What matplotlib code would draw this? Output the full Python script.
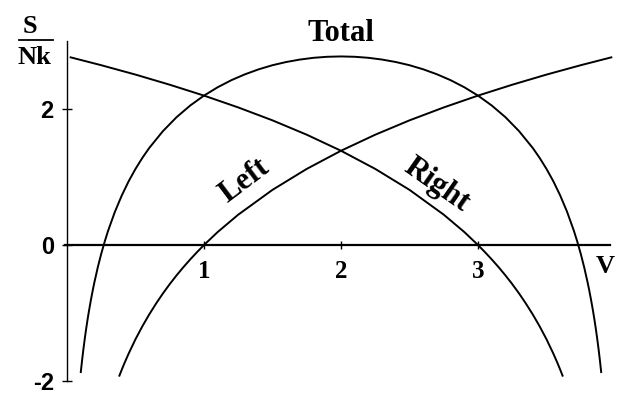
import matplotlib
matplotlib.use("Agg")
import matplotlib.pyplot as plt
from matplotlib.lines import Line2D

# Entropy S/Nk of the left and right compartments and of the whole system vs. V
left_v = [0.38, 0.40, 0.42, 0.45, 0.50, 0.55, 0.60, 0.65, 0.70, 0.75, 0.80, 0.85,
          0.90, 0.95, 1.00, 1.10, 1.25, 1.50, 1.75, 2.00, 2.25, 2.50, 2.75, 3.00,
          3.25, 3.50, 3.75, 3.98]
left_s = [-1.935, -1.833, -1.735, -1.597, -1.386, -1.196, -1.022, -0.862, -0.713,
          -0.575, -0.446, -0.325, -0.211, -0.103, 0.000, 0.191, 0.446, 0.811, 1.119,
          1.386, 1.622, 1.833, 2.023, 2.197, 2.357, 2.506, 2.644, 2.763]

right_v = [0.02, 0.25, 0.50, 0.75, 1.00, 1.25, 1.50, 1.75, 2.00, 2.25, 2.50, 2.75,
           2.90, 3.00, 3.05, 3.10, 3.15, 3.20, 3.25, 3.30, 3.35, 3.40, 3.45, 3.50,
           3.55, 3.58, 3.60, 3.62]
right_s = [2.763, 2.644, 2.506, 2.357, 2.197, 2.023, 1.833, 1.622, 1.386, 1.119,
           0.811, 0.446, 0.191, 0.000, -0.103, -0.211, -0.325, -0.446, -0.575,
           -0.713, -0.862, -1.022, -1.196, -1.386, -1.597, -1.735, -1.833, -1.935]

total_v = [0.10, 0.11, 0.12, 0.13, 0.14, 0.15, 0.16, 0.175, 0.19, 0.20, 0.225, 0.25,
           0.275, 0.30, 0.35, 0.40, 0.45, 0.50, 0.55, 0.60, 0.70, 0.80, 0.90, 1.00,
           1.10, 1.20, 1.30, 1.40, 1.50, 1.60, 1.70, 1.80, 1.90, 2.00,
           2.10, 2.20, 2.30, 2.40, 2.50, 2.60, 2.70, 2.80, 2.90, 3.00, 3.10, 3.20,
           3.30, 3.40, 3.45, 3.50, 3.55, 3.60, 3.65, 3.70, 3.725, 3.75, 3.775, 3.80,
           3.81, 3.825, 3.84, 3.85, 3.86, 3.87, 3.88, 3.89, 3.90]
total_s = [-1.883, -1.698, -1.529, -1.374, -1.231, -1.098, -0.974, -0.803, -0.646,
           -0.549, -0.326, -0.129, 0.048, 0.209, 0.490, 0.729, 0.937, 1.119, 1.281,
           1.426, 1.674, 1.880, 2.052, 2.197, 2.320, 2.424, 2.511, 2.584, 2.644,
           2.691, 2.727, 2.753, 2.768, 2.773,
           2.768, 2.753, 2.727, 2.691, 2.644, 2.584, 2.511, 2.424, 2.320, 2.197,
           2.052, 1.880, 1.674, 1.426, 1.281, 1.119, 0.937, 0.729, 0.490, 0.209,
           0.048, -0.129, -0.326, -0.549, -0.646, -0.803, -0.974, -1.098, -1.231,
           -1.374, -1.529, -1.698, -1.883]

x_ticks = [1, 2, 3]
x_tick_labels = ["1", "2", "3"]
y_ticks = [-2, 0, 2]
y_tick_labels = ["-2", "0", "2"]

serif = "Liberation Serif"
sans = "Liberation Sans"

fig = plt.figure(figsize=(6.18, 3.95), dpi=100)
ax = fig.add_axes([0, 0, 1, 1])
ax.set_xlim(-0.489, 4.022)
ax.set_ylim(-2.206, 3.603)
ax.patch.set_alpha(0)

lw = 1.4
for xs, ys in ((left_v, left_s), (right_v, right_s), (total_v, total_s)):
    ax.plot(xs, ys, color="black", lw=lw, solid_capstyle="butt",
            solid_joinstyle="round")

# Axes through the origin
for side in ("top", "right"):
    ax.spines[side].set_visible(False)
ax.spines["left"].set_position(("data", 0))
ax.spines["bottom"].set_position(("data", 0))
ax.spines["left"].set_bounds(-2.0, 3.0)
ax.spines["bottom"].set_bounds(-0.015, 3.96)
ax.spines["left"].set_linewidth(1.0)
ax.spines["bottom"].set_linewidth(1.6)

ax.set_xticks(x_ticks)
ax.set_xticklabels(x_tick_labels, fontfamily=serif, fontweight="bold", fontsize=18)
ax.set_yticks(y_ticks)
ax.set_yticklabels(y_tick_labels, fontfamily=sans, fontweight="bold", fontsize=17)
ax.tick_params(axis="x", direction="inout", length=6, width=1.0, pad=8)
ax.tick_params(axis="y", direction="inout", length=7, width=1.0, pad=6)

# Axis titles
ax.text(3.93, -0.32, "V", fontfamily=serif, fontweight="bold", fontsize=19,
        ha="center", va="center")
ax.text(-0.27, 3.22, "S", fontfamily=serif, fontweight="bold", fontsize=19,
        ha="center", va="center")
ax.text(-0.24, 2.76, "Nk", fontfamily=serif, fontweight="bold", fontsize=19,
        ha="center", va="center")
ax.add_line(Line2D([-0.35, -0.10], [3.02, 3.02], color="black", lw=1.3))

# Curve labels
ax.text(2.0, 3.11, "Total", fontfamily=serif, fontweight="bold", fontsize=22,
        ha="center", va="center")
ax.text(1.30, 0.94, "Left", fontfamily=serif, fontweight="bold", fontsize=22,
        ha="center", va="center", rotation=37, rotation_mode="anchor")
ax.text(2.70, 0.88, "Right", fontfamily=serif, fontweight="bold", fontsize=22,
        ha="center", va="center", rotation=-35, rotation_mode="anchor")

fig.savefig("out.png", dpi=100)
